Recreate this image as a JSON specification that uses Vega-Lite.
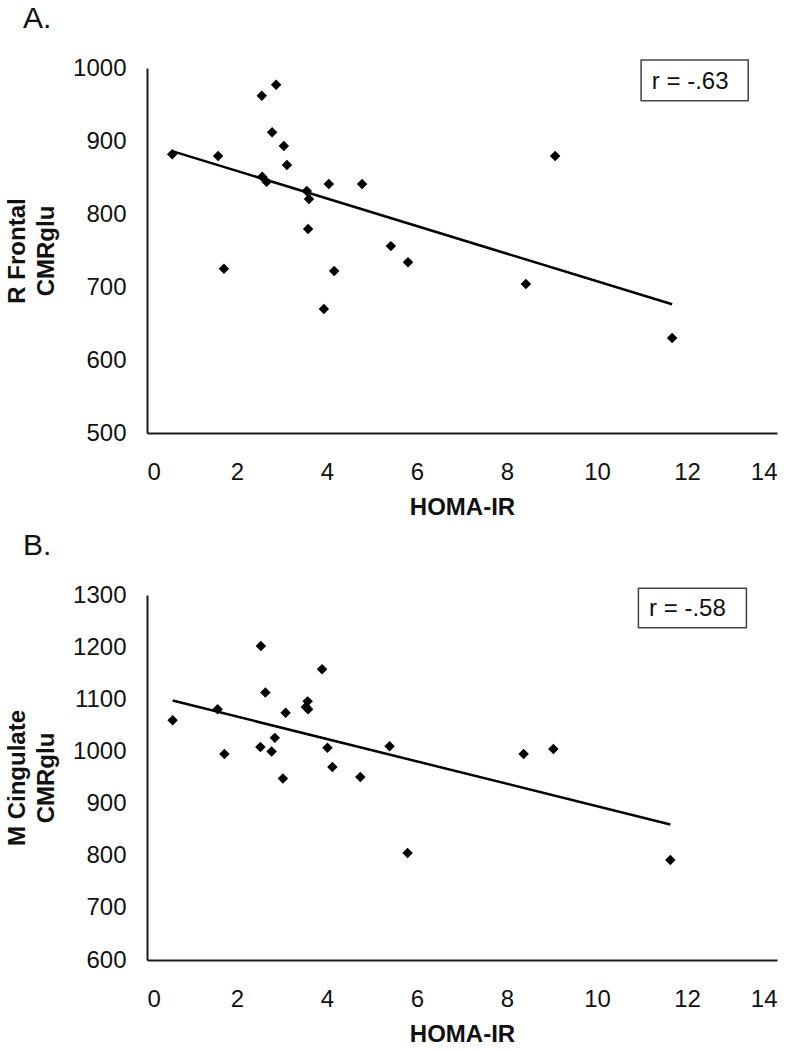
{
  "$schema": "https://vega.github.io/schema/vega-lite/v6.json",
  "background": "white",
  "padding": {"left": 5, "top": 4, "right": 4, "bottom": 0},
  "spacing": 12,
  "config": {
    "font": "Liberation Sans",
    "view": {"stroke": null},
    "axis": {
      "grid": false,
      "ticks": false,
      "tickSize": 0,
      "domainColor": "#1a1a1a",
      "domainWidth": 2,
      "labelFont": "Liberation Sans",
      "labelFontSize": 24,
      "labelColor": "#111111",
      "titleFont": "Liberation Sans",
      "titleFontSize": 24,
      "titleFontWeight": "bold",
      "titleColor": "#111111",
      "format": "d"
    },
    "axisX": {"labelPadding": 27, "titlePadding": 11},
    "axisY": {"labelPadding": 21, "titlePadding": 14, "titleLineHeight": 29}
  },
  "datasets": {
    "panelA": [
      {"homa": 0.56, "cmr": 882},
      {"homa": 1.58, "cmr": 879.5},
      {"homa": 1.71, "cmr": 725},
      {"homa": 2.55, "cmr": 962},
      {"homa": 2.56, "cmr": 851},
      {"homa": 2.66, "cmr": 844},
      {"homa": 2.78, "cmr": 912},
      {"homa": 2.87, "cmr": 977},
      {"homa": 3.04, "cmr": 893},
      {"homa": 3.11, "cmr": 867},
      {"homa": 3.55, "cmr": 831.5},
      {"homa": 3.58, "cmr": 779.5},
      {"homa": 3.60, "cmr": 820.5},
      {"homa": 3.93, "cmr": 670},
      {"homa": 4.04, "cmr": 841},
      {"homa": 4.16, "cmr": 722},
      {"homa": 4.78, "cmr": 841},
      {"homa": 5.42, "cmr": 756},
      {"homa": 5.80, "cmr": 734},
      {"homa": 8.42, "cmr": 704},
      {"homa": 9.07, "cmr": 879.5},
      {"homa": 11.67, "cmr": 630}
    ],
    "panelB": [
      {"homa": 0.57, "cmr": 1060},
      {"homa": 1.57, "cmr": 1081},
      {"homa": 1.72, "cmr": 995},
      {"homa": 2.53, "cmr": 1202},
      {"homa": 2.52, "cmr": 1008.5},
      {"homa": 2.63, "cmr": 1113},
      {"homa": 2.77, "cmr": 1000},
      {"homa": 2.84, "cmr": 1026},
      {"homa": 3.02, "cmr": 948},
      {"homa": 3.08, "cmr": 1074},
      {"homa": 3.57, "cmr": 1096},
      {"homa": 3.53, "cmr": 1085},
      {"homa": 3.58, "cmr": 1081},
      {"homa": 3.89, "cmr": 1157.5},
      {"homa": 4.01, "cmr": 1007},
      {"homa": 4.12, "cmr": 970},
      {"homa": 4.74, "cmr": 951},
      {"homa": 5.39, "cmr": 1010},
      {"homa": 5.79, "cmr": 805},
      {"homa": 8.37, "cmr": 995},
      {"homa": 9.03, "cmr": 1004.6},
      {"homa": 11.63, "cmr": 792}
    ],
    "noteA": [{"x1": 10.98, "x2": 13.36, "y1": 1011, "y2": 955, "xm": 12.07, "ym": 981, "label": "r = -.63"}],
    "noteB": [{"x1": 10.92, "x2": 13.32, "y1": 1313, "y2": 1237, "xm": 12.01, "ym": 1273, "label": "r = -.58"}]
  },
  "vconcat": [
    {
      "title": {"text": "A.", "anchor": "start", "frame": "group", "fontSize": 30, "fontWeight": "normal", "color": "#111111", "dx": -124, "offset": 22},
      "width": 630,
      "height": 365,
      "layer": [
        {
          "data": {"name": "panelA"},
          "mark": {"type": "point", "shape": "diamond", "filled": true, "color": "black", "opacity": 1, "size": 110},
          "encoding": {
            "x": {"field": "homa", "type": "quantitative", "scale": {"domain": [0, 14], "nice": false, "zero": false}, "axis": {"title": "HOMA-IR", "values": [0, 2, 4, 6, 8, 10, 12, 14]}},
            "y": {"field": "cmr", "type": "quantitative", "scale": {"domain": [500, 1000], "nice": false, "zero": false}, "axis": {"title": ["R Frontal", "CMRglu"], "values": [500, 600, 700, 800, 900, 1000]}}
          }
        },
        {
          "data": {"name": "panelA"},
          "transform": [{"regression": "cmr", "on": "homa"}],
          "mark": {"type": "line", "color": "black", "strokeWidth": 2.5},
          "encoding": {
            "x": {"field": "homa", "type": "quantitative"},
            "y": {"field": "cmr", "type": "quantitative"}
          }
        },
        {
          "data": {"name": "noteA"},
          "mark": {"type": "rect", "fill": "white", "stroke": "#444444", "strokeWidth": 1.5},
          "encoding": {
            "x": {"field": "x1", "type": "quantitative"},
            "x2": {"field": "x2"},
            "y": {"field": "y1", "type": "quantitative"},
            "y2": {"field": "y2"}
          }
        },
        {
          "data": {"name": "noteA"},
          "mark": {"type": "text", "fontSize": 24, "color": "#111111", "align": "center", "baseline": "middle"},
          "encoding": {
            "x": {"field": "xm", "type": "quantitative"},
            "y": {"field": "ym", "type": "quantitative"},
            "text": {"field": "label"}
          }
        }
      ]
    },
    {
      "title": {"text": "B.", "anchor": "start", "frame": "group", "fontSize": 30, "fontWeight": "normal", "color": "#111111", "dx": -124, "offset": 22},
      "width": 630,
      "height": 365,
      "layer": [
        {
          "data": {"name": "panelB"},
          "mark": {"type": "point", "shape": "diamond", "filled": true, "color": "black", "opacity": 1, "size": 110},
          "encoding": {
            "x": {"field": "homa", "type": "quantitative", "scale": {"domain": [0, 14], "nice": false, "zero": false}, "axis": {"title": "HOMA-IR", "values": [0, 2, 4, 6, 8, 10, 12, 14]}},
            "y": {"field": "cmr", "type": "quantitative", "scale": {"domain": [600, 1300], "nice": false, "zero": false}, "axis": {"title": ["M Cingulate", "CMRglu"], "values": [600, 700, 800, 900, 1000, 1100, 1200, 1300]}}
          }
        },
        {
          "data": {"name": "panelB"},
          "transform": [{"regression": "cmr", "on": "homa"}],
          "mark": {"type": "line", "color": "black", "strokeWidth": 2.5},
          "encoding": {
            "x": {"field": "homa", "type": "quantitative"},
            "y": {"field": "cmr", "type": "quantitative"}
          }
        },
        {
          "data": {"name": "noteB"},
          "mark": {"type": "rect", "fill": "white", "stroke": "#444444", "strokeWidth": 1.5},
          "encoding": {
            "x": {"field": "x1", "type": "quantitative"},
            "x2": {"field": "x2"},
            "y": {"field": "y1", "type": "quantitative"},
            "y2": {"field": "y2"}
          }
        },
        {
          "data": {"name": "noteB"},
          "mark": {"type": "text", "fontSize": 24, "color": "#111111", "align": "center", "baseline": "middle"},
          "encoding": {
            "x": {"field": "xm", "type": "quantitative"},
            "y": {"field": "ym", "type": "quantitative"},
            "text": {"field": "label"}
          }
        }
      ]
    }
  ]
}
